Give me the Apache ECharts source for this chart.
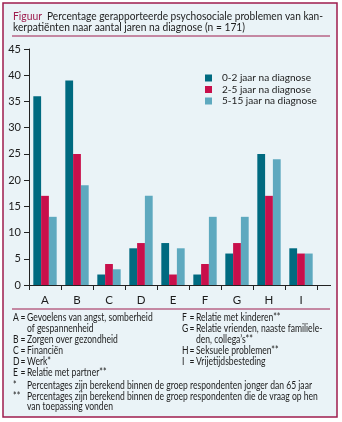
<!DOCTYPE html>
<html>
<head>
<meta charset="utf-8">
<script src="https://cdn.jsdelivr.net/npm/echarts@6/dist/echarts.min.js"></script>
<style>
  html, body { margin: 0; padding: 0; background: #ffffff; }
  #chart { width: 342px; height: 422px; }
</style>
</head>
<body>
<div id="chart"></div>
<script>
// Categories (problem areas) and percentages per period after diagnosis
var categories = ['A', 'B', 'C', 'D', 'E', 'F', 'G', 'H', 'I'];
var seriesNames = ['0-2 jaar na diagnose', '2-5 jaar na diagnose', '5-15 jaar na diagnose'];
var years0to2 = [36, 39, 2, 7, 8, 2, 6, 25, 7];
var years2to5 = [17, 25, 4, 8, 2, 4, 8, 17, 6];
var years5to15 = [13, 19, 3, 17, 7, 13, 13, 24, 6];
var yMin = 0, yMax = 45, yStep = 5;

var titleHead = 'Figuur';
var titleLine1 = 'Percentage gerapporteerde psychosociale problemen van kan-';
var titleLine2 = 'kerpatiënten naar aantal jaren na diagnose (n = 171)';

// key: [letter, description] — an empty letter continues the previous line
var keyLeft = [
  ['A', 'Gevoelens van angst, somberheid'],
  ['', 'of gespannenheid'],
  ['B', 'Zorgen over gezondheid'],
  ['C', 'Financiën'],
  ['D', 'Werk*'],
  ['E', 'Relatie met partner**']
];
var keyRight = [
  ['F', 'Relatie met kinderen**'],
  ['G', 'Relatie vrienden, naaste familiele-'],
  ['', 'den, collega\u2019s**'],
  ['H', 'Seksuele problemen**'],
  ['I', 'Vrijetijdsbesteding']
];
var notes = [
  ['*', 'Percentages zijn berekend binnen de groep respondenten jonger dan 65 jaar'],
  ['**', 'Percentages zijn berekend binnen de groep respondenten die de vraag op hen'],
  ['', 'van toepassing vonden']
];

var colors = ['#006a80', '#c80f4b', '#5ea9bf'];
var frameColor = '#9e1c4e';
var inkColor = '#1c1c1c';
var font = 'Lato, "Open Sans", sans-serif';

// the typeface of this figure is a narrow one: measure text and squeeze it horizontally
var measureCtx = document.createElement('canvas').getContext('2d');
function textWidth(t, size) {
  measureCtx.font = size + 'px ' + font;
  return measureCtx.measureText(t).width;
}
function label(t, x, y, size, fill, sx) {
  return {
    type: 'text', x: x, y: y, scaleX: sx || 1, silent: true,
    style: { text: t, fontSize: size, fontFamily: font, fill: fill || inkColor, verticalAlign: 'middle' }
  };
}
function fitted(t, x, y, size, width, fill) {
  return label(t, x, y, size, fill, width / textWidth(t, size));
}

var chart = echarts.init(document.getElementById('chart'), null, { renderer: 'canvas' });

var graphics = [];
// panel background and frame
graphics.push({
  type: 'rect', z: -10, silent: true,
  shape: { x: 3, y: 3, width: 334, height: 414 },
  style: { fill: '#eaf3f7', stroke: frameColor, lineWidth: 1.5 }
});
// heading
graphics.push(fitted(titleHead, 13, 16, 12, 29, frameColor));
graphics.push(fitted(titleLine1, 47, 16, 12, 276));
graphics.push(fitted(titleLine2, 13, 27.5, 12, 232));
graphics.push({
  type: 'line', silent: true, shape: { x1: 12, y1: 36, x2: 330, y2: 36 },
  style: { stroke: frameColor, lineWidth: 1 }
});
// divider between chart and key
graphics.push({
  type: 'line', silent: true, shape: { x1: 12, y1: 309, x2: 330, y2: 309 },
  style: { stroke: frameColor, lineWidth: 1 }
});
// axis line continues past the last category
graphics.push({
  type: 'line', silent: true, shape: { x1: 317, y1: 285.5, x2: 331, y2: 285.5 },
  style: { stroke: '#222', lineWidth: 1 }
});

// key to the category letters and the footnotes
var noteSize = 11;
var squeeze = 285 / textWidth(notes[0][1], noteSize);
var keyY = [317, 328, 339.5, 350.5, 361.5, 372.5];
function keyColumn(rows, x) {
  rows.forEach(function (r, i) {
    if (r[0]) {
      graphics.push(label(r[0], x, keyY[i], noteSize, inkColor, squeeze));
      graphics.push(label('=', x + 7.5, keyY[i], noteSize, inkColor, squeeze));
    }
    graphics.push(label(r[1], x + 14, keyY[i], noteSize, inkColor, squeeze));
  });
}
keyColumn(keyLeft, 13);
keyColumn(keyRight, 182);

var noteY = [385.5, 396, 406.5];
notes.forEach(function (n, i) {
  if (n[0]) graphics.push(label(n[0], 13, noteY[i], noteSize, inkColor, squeeze));
  graphics.push(label(n[1], 27, noteY[i], noteSize, inkColor, squeeze));
});

var legendSize = 11 * 95 / textWidth(seriesNames[2], 11);

function barSeries(name, data, color) {
  return {
    name: name, type: 'bar', data: data,
    barGap: '0%', barCategoryGap: '27%',
    itemStyle: { color: color },
    emphasis: { disabled: true }
  };
}

chart.setOption({
  animation: false,
  backgroundColor: '#ffffff',
  textStyle: { fontFamily: font },
  grid: { left: 29, right: 25, top: 49, bottom: 137, containLabel: false },
  legend: {
    orient: 'vertical', left: 205, top: 72.5, padding: 0,
    itemWidth: 7, itemHeight: 7, itemGap: 0.5,
    icon: 'rect',
    textStyle: { fontSize: legendSize, lineHeight: 11, fontFamily: font, color: inkColor, padding: [0, 0, 0, 5] },
    data: seriesNames
  },
  xAxis: {
    type: 'category', data: categories,
    axisLine: { lineStyle: { color: '#222', width: 1 } },
    axisTick: { show: true, length: 5, inside: false, lineStyle: { color: '#222' } },
    axisLabel: { color: inkColor, fontSize: 11.5, margin: 9, fontFamily: font }
  },
  yAxis: {
    type: 'value', min: yMin, max: yMax, interval: yStep,
    axisLine: { show: true, lineStyle: { color: '#222', width: 1 } },
    axisTick: { show: true, length: 5, lineStyle: { color: '#222' } },
    axisLabel: { color: inkColor, fontSize: 11, margin: 8, fontFamily: font },
    splitLine: { show: false }
  },
  series: [
    barSeries(seriesNames[0], years0to2, colors[0]),
    barSeries(seriesNames[1], years2to5, colors[1]),
    barSeries(seriesNames[2], years5to15, colors[2])
  ],
  graphic: graphics
});
</script>
</body>
</html>
